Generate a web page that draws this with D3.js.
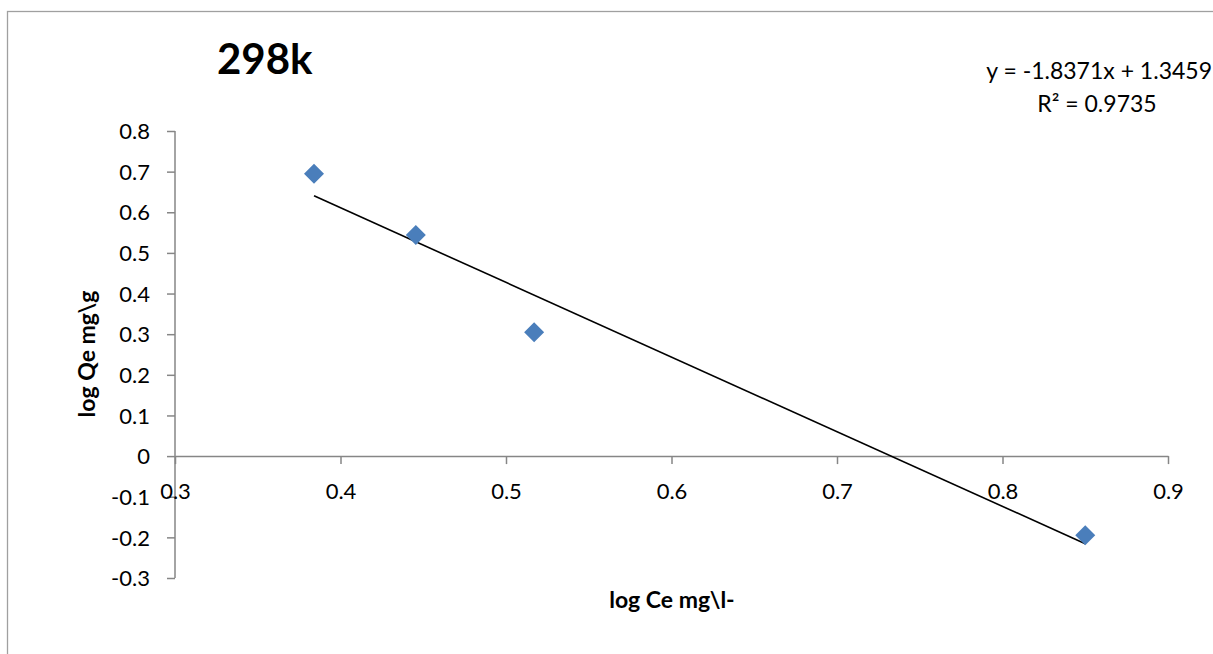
<!DOCTYPE html>
<html>
<head>
<meta charset="utf-8">
<script src="https://cdn.jsdelivr.net/npm/d3@7"></script>
<style>
  body { margin: 0; background: #fff; }
  svg { display: block; font-family: Lato, "Open Sans", sans-serif; }
</style>
</head>
<body>
<div id="chart"></div>
<script>
// data
const logCe = [0.384, 0.4455, 0.517, 0.850];
const logQe = [0.695, 0.544, 0.305, -0.195];
const xTicks = [0.3, 0.4, 0.5, 0.6, 0.7, 0.8, 0.9];
const yTicks = [-0.3, -0.2, -0.1, 0, 0.1, 0.2, 0.3, 0.4, 0.5, 0.6, 0.7, 0.8];
const slope = -1.8371, intercept = 1.3459;
const rSquared = 0.9735;

const width = 1213, height = 654;
const svg = d3.select("#chart").append("svg")
  .attr("width", width)
  .attr("height", height);

// chart area border
svg.append("rect")
  .attr("x", 7.5).attr("y", 11.5)
  .attr("width", width).attr("height", height)
  .attr("fill", "none")
  .attr("stroke", "#a0a0a0")
  .attr("stroke-width", 1.3);

const x = d3.scaleLinear().domain([0.3, 0.9]).range([175, 1168]);
const y = d3.scaleLinear().domain([-0.3, 0.8]).range([578, 131]);
const axisColor = "#868686";
// plain hyphen minus, like the original
const fmt = d => String(+d.toFixed(1));

// y axis sits at x=0.3, x axis crosses at y=0
const yAxis = svg.append("g")
  .attr("transform", `translate(${x(0.3)},0)`)
  .call(d3.axisLeft(y).tickValues(yTicks).tickSize(8).tickSizeOuter(0).tickFormat(fmt));
const xAxis = svg.append("g")
  .attr("transform", `translate(0,${y(0)})`)
  .call(d3.axisBottom(x).tickValues(xTicks).tickSize(8).tickSizeOuter(0).tickFormat(fmt));

[xAxis, yAxis].forEach(g => {
  g.select(".domain").attr("stroke", axisColor).attr("stroke-width", 1.5);
  g.selectAll(".tick line").attr("stroke", axisColor).attr("stroke-width", 1.5);
  g.selectAll(".tick text").attr("fill", "#000").attr("font-size", 22)
    .attr("font-family", "Lato, sans-serif");
});
yAxis.selectAll(".tick text").attr("x", -25).attr("dy", "0.35em");
xAxis.selectAll(".tick text").attr("y", 43).attr("dy", "0");
yAxis.select(".domain").attr("d", `M0,${y(0.8)}V${y(-0.3)}`);

// trend line
const xr = d3.extent(logCe);
svg.append("line")
  .attr("x1", x(xr[0])).attr("y1", y(slope * xr[0] + intercept))
  .attr("x2", x(xr[1])).attr("y2", y(slope * xr[1] + intercept))
  .attr("stroke", "#000")
  .attr("stroke-width", 1.6);

// diamond markers
const diamond = d3.symbol().type(d3.symbolSquare).size(200);
svg.append("g")
  .selectAll("path")
  .data(logCe.map((v, i) => [v, logQe[i]]))
  .enter().append("path")
  .attr("d", diamond)
  .attr("transform", d => `translate(${x(d[0])},${y(d[1])}) rotate(45)`)
  .attr("fill", "#4a7ebb");

// title
svg.append("text")
  .attr("x", 217).attr("y", 74)
  .attr("font-size", 42).attr("font-weight", "bold")
  .text("298k");

// trendline equation
svg.append("text")
  .attr("x", 1212).attr("y", 79)
  .attr("text-anchor", "end")
  .attr("font-size", 23)
  .text(`y = ${slope}x + ${intercept}`);
svg.append("text")
  .attr("x", 1097).attr("y", 112)
  .attr("text-anchor", "middle")
  .attr("font-size", 23)
  .text(`R² = ${rSquared}`);

// axis titles
svg.append("text")
  .attr("x", 672).attr("y", 608)
  .attr("text-anchor", "middle")
  .attr("font-size", 23).attr("font-weight", "bold")
  .text("log Ce mg\\l-");
svg.append("text")
  .attr("transform", "translate(95,354) rotate(-90)")
  .attr("text-anchor", "middle")
  .attr("font-size", 23).attr("font-weight", "bold")
  .text("log Qe mg\\g");
</script>
</body>
</html>
